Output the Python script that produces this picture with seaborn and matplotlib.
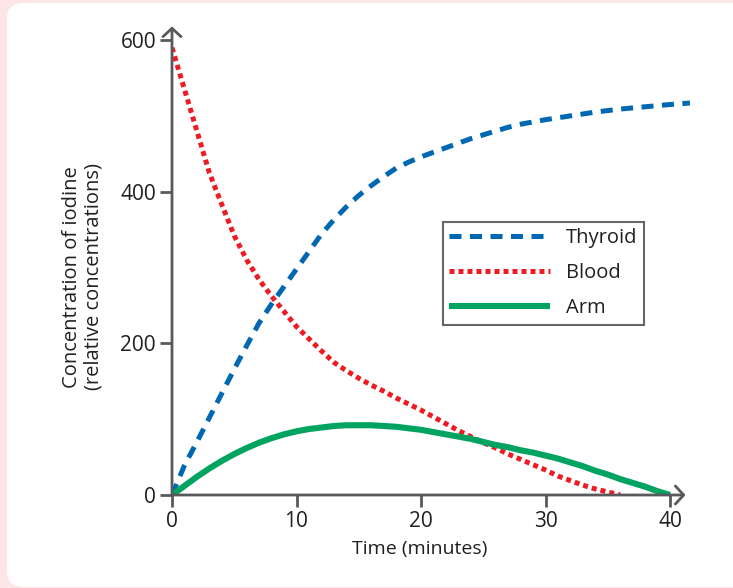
import matplotlib.pyplot as plt
import pandas as pd
import seaborn as sns
from matplotlib.patches import FancyBboxPatch

# values
thyroid_time = [0, 1, 2, 3, 4, 5, 6, 7, 8, 9, 10, 11, 12, 13, 14, 15, 16, 17, 18, 19, 20,
                21, 22, 23, 24, 25, 26, 27, 28, 30, 32, 34, 36, 38, 40, 41.6]
thyroid_conc = [0, 39, 70, 102, 134, 166, 197, 227, 252, 275, 298, 321, 344, 363, 380, 395, 408, 420, 431, 439, 446,
                452, 458, 464, 470, 475, 480, 485, 489, 495, 500, 505, 509, 512, 515, 517]

blood_time = [0, 1, 2, 3, 4, 5, 6, 7, 8, 9, 10, 11, 12, 13, 14, 15, 16, 17, 18,
              19, 20, 21, 22, 23, 24, 25, 26, 27, 28, 29, 30, 31, 32, 33, 34, 35, 36]
blood_conc = [590, 535, 480, 425, 383, 342, 310, 284, 262, 242, 222, 206, 190, 175, 164, 154, 145, 137, 128,
              120, 112, 103, 94, 85, 77, 69, 62, 54, 47, 40, 33, 25, 19, 13, 8, 4, 0]

arm_time = [0, 1, 2, 3, 4, 5, 6, 7, 8, 9, 10, 11, 12, 13, 14, 15, 16, 17, 18, 19, 20,
            21, 22, 23, 24, 25, 26, 27, 28, 29, 30, 31, 32, 33, 34, 35, 36, 37, 38, 39, 40]
arm_conc = [0, 12, 24, 35, 45, 54, 62, 69, 75, 80, 84, 87, 89, 91, 92, 92, 92, 91, 90, 88, 86,
            83, 80, 77, 74, 70, 66, 63, 59, 56, 52, 48, 43, 38, 32, 27, 21, 16, 11, 5, 0]

x_ticks = [0, 10, 20, 30, 40]
y_ticks = [0, 200, 400, 600]

df = pd.concat([
    pd.DataFrame({'time': thyroid_time, 'conc': thyroid_conc, 'series': 'Thyroid'}),
    pd.DataFrame({'time': blood_time, 'conc': blood_conc, 'series': 'Blood'}),
    pd.DataFrame({'time': arm_time, 'conc': arm_conc, 'series': 'Arm'}),
])

sns.set_style('white')
plt.rcParams['font.family'] = ['Open Sans', 'DejaVu Sans']
plt.rcParams['text.color'] = '#231f20'

fig = plt.figure(figsize=(7.33, 5.88), dpi=100)
fig.patch.set_facecolor('#fde6e6')
panel = FancyBboxPatch((7 / 733, 1 / 588), 760 / 733, 584 / 588,
                       boxstyle='round,pad=0,rounding_size=0.025',
                       transform=fig.transFigure, facecolor='white',
                       edgecolor='none', zorder=-5)
fig.patches.append(panel)

ax = fig.add_axes([172 / 733, 93 / 588, 522.9 / 733, 470.1 / 588])
ax.patch.set_alpha(0)
ax.set_zorder(2)

colors = {'Thyroid': '#0068b3', 'Blood': '#ed1c24', 'Arm': '#00a460'}
styles = {'Thyroid': (2.4, 1.7), 'Blood': (1, 0.8), 'Arm': ''}
sns.lineplot(data=df, x='time', y='conc', hue='series', style='series',
             palette=colors, dashes=styles, ax=ax, legend=False,
             estimator=None, sort=False)
widths = {'Thyroid': 3.6, 'Blood': 3.6, 'Arm': 4.4}
for line, name in zip(ax.get_lines(), ['Thyroid', 'Blood', 'Arm']):
    line.set_linewidth(widths[name])
    line.set_dash_capstyle('butt')
    line.set_solid_capstyle('butt')

ax.set_xlim(0, 42)
ax.set_ylim(0, 620)
for s in ax.spines.values():
    s.set_visible(False)

axis_col = '#58595b'
ax.annotate('', xy=(41.25, 0), xytext=(0, 0),
            arrowprops=dict(arrowstyle='->,head_length=0.6,head_width=0.65',
                            color=axis_col, lw=2, shrinkA=0, shrinkB=0), annotation_clip=False)
ax.annotate('', xy=(0, 618), xytext=(0, 0),
            arrowprops=dict(arrowstyle='->,head_length=0.6,head_width=0.65',
                            color=axis_col, lw=2, shrinkA=0, shrinkB=0), annotation_clip=False)

ax.set_xticks(x_ticks)
ax.set_yticks(y_ticks)
ax.tick_params(axis='both', direction='out', length=8.5, width=2, color=axis_col,
               labelsize=15, labelcolor='#231f20', pad=3, left=True, bottom=True)
ax.set_xlabel('')
ax.set_ylabel('')

fig.text(83 / 733, 1 - 277 / 588, 'Concentration of iodine\n(relative concentrations)',
         rotation=90, ha='center', va='center', fontsize=14.5, linespacing=1.1)
fig.text(420 / 733, 1 - 549 / 588, 'Time (minutes)', ha='center', va='center', fontsize=14)

handles = [plt.Line2D([], [], color=colors[n], lw=widths[n],
                      dashes=styles[n] if styles[n] else (None, None),
                      dash_capstyle='butt', solid_capstyle='butt')
           for n in ['Thyroid', 'Blood', 'Arm']]
leg = fig.legend(handles, ['Thyroid', 'Blood', 'Arm'], loc='upper left',
                 bbox_to_anchor=(443 / 733, 1 - 222 / 588), fontsize=14.5,
                 frameon=True, fancybox=False, handlelength=5.0, handletextpad=0.8,
                 labelspacing=0.74, borderpad=0.32, borderaxespad=0)
leg.get_frame().set_edgecolor('#404041')
leg.get_frame().set_linewidth(1.5)
leg.set_zorder(5)

fig.savefig('out.png', dpi=100, facecolor=fig.get_facecolor())
